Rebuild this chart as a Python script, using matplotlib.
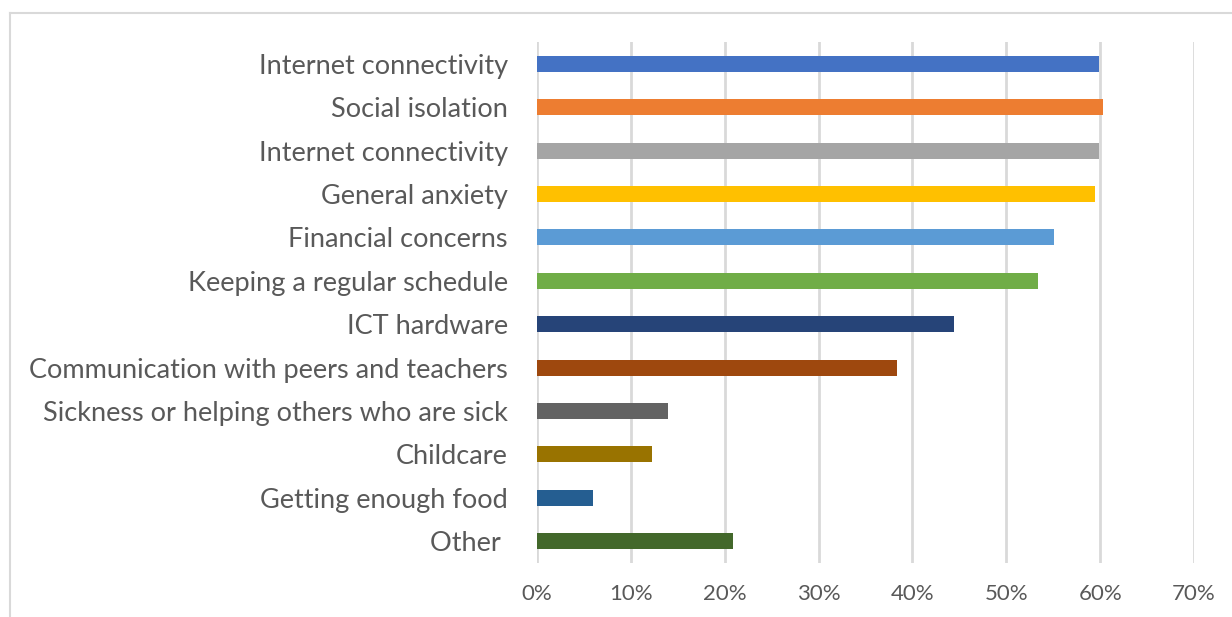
import matplotlib
matplotlib.use("Agg")
import matplotlib.pyplot as plt
from matplotlib.lines import Line2D

# Categories listed top to bottom, as in the chart
categories = [
    "Internet connectivity",
    "Social isolation",
    "Internet connectivity",
    "General anxiety",
    "Financial concerns",
    "Keeping a regular schedule",
    "ICT hardware",
    "Communication with peers and teachers",
    "Sickness or helping others who are sick",
    "Childcare",
    "Getting enough food",
    "Other ",
]
values = [59.9, 60.3, 59.9, 59.4, 55.1, 53.4, 44.4, 38.4, 14.0, 12.3, 6.0, 20.9]
colors = ["#4472C4", "#ED7D31", "#A5A5A5", "#FFC000", "#5B9BD5", "#70AD47",
          "#264478", "#9E480E", "#636363", "#997300", "#255E91", "#43682B"]
x_ticks = [0, 10, 20, 30, 40, 50, 60, 70]

plt.rcParams['font.family'] = ['Lato', 'DejaVu Sans']

fig = plt.figure(figsize=(12.32, 6.17), dpi=100)
ax = fig.add_axes([537 / 1232, 1 - 563 / 617, 657 / 1232, 521 / 617])

ypos = list(range(len(categories)))
ax.barh(ypos, values, color=colors, height=0.37, zorder=3)

ax.set_ylim(len(categories) - 0.5, -0.5)
ax.set_xlim(0, 70)
ax.set_yticks(ypos)
ax.set_yticklabels(categories, fontsize=19.5, color="#595959")
ax.set_xticks(x_ticks)
ax.set_xticklabels([f"{t}%" for t in x_ticks], fontsize=16, color="#595959")
ax.tick_params(axis="y", length=0, pad=21)
ax.tick_params(axis="x", length=0, pad=15)

ax.grid(axis="x", color="#D9D9D9", linewidth=2, zorder=0)
for s in ax.spines.values():
    s.set_visible(False)

# outer chart frame (top and left edges visible)
fig.add_artist(Line2D([10 / 1232, 10 / 1232], [0, 1 - 13 / 617], transform=fig.transFigure,
                      color="#D9D9D9", linewidth=1.5))
fig.add_artist(Line2D([10 / 1232, 1], [1 - 13 / 617, 1 - 13 / 617], transform=fig.transFigure,
                      color="#D9D9D9", linewidth=1.5))

fig.savefig("out.png", dpi=100)
